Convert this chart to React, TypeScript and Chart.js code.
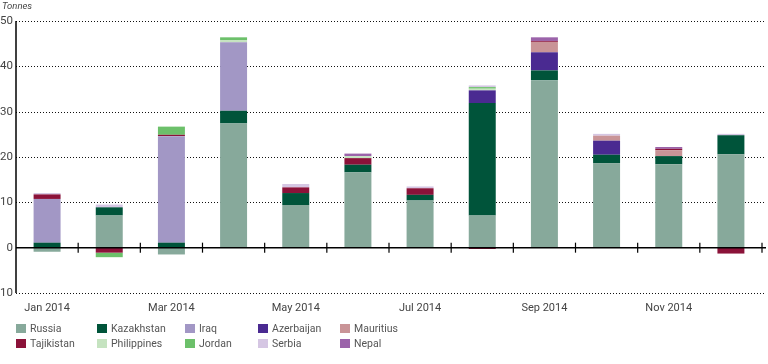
import React, { useEffect, useRef } from "react";
import { Chart, registerables } from "chart.js";

Chart.register(...registerables);

const months = [
  "Jan 2014", "Feb 2014", "Mar 2014", "Apr 2014", "May 2014", "Jun 2014",
  "Jul 2014", "Aug 2014", "Sep 2014", "Oct 2014", "Nov 2014", "Dec 2014",
];

const russia = [-0.9, 7.1, -1.5, 27.4, 9.4, 16.6, 10.4, 7.1, 36.9, 18.6, 18.4, 20.6];
const kazakhstan = [1.1, 1.8, 1.1, 2.8, 2.65, 1.7, 1.25, 24.8, 2.2, 1.9, 1.8, 4.2];
const iraq = [9.65, 0, 23.5, 15.1, 0, 0, 0, 0, 0, 0, 0, 0];
const azerbaijan = [0, 0, 0, 0, 0, 0, 0, 2.8, 4.0, 3.1, 0, 0];
const mauritius = [0, 0, 0, 0, 0, 0, 0, 0, 2.3, 1.1, 1.3, 0];
const tajikistan = [1.0, -1.1, 0.3, 0, 1.25, 1.45, 1.45, -0.3, 0.2, 0, 0.3, -1.3];
const philippines = [0, 0, 0, 0.5, 0, 0.45, 0, 0.37, 0, 0, 0, 0];
const jordan = [0, -1.0, 1.8, 0.6, 0, 0, 0, 0.35, 0, 0, 0, 0];
const serbia = [0.3, 0.6, 0, 0, 0.75, 0, 0.4, 0.37, 0, 0.4, 0, 0.3];
const nepal = [0, 0, 0, 0, 0, 0.55, 0, 0, 0.8, 0, 0.4, 0];

const yTicks = [-10, 0, 10, 20, 30, 40, 50];

const seriesNames = [
  "Russia", "Kazakhstan", "Iraq", "Azerbaijan", "Mauritius",
  "Tajikistan", "Philippines", "Jordan", "Serbia", "Nepal",
];
const seriesData = [
  russia, kazakhstan, iraq, azerbaijan, mauritius,
  tajikistan, philippines, jordan, serbia, nepal,
];
const seriesColors = [
  "#87a99b", "#00543a", "#a297c5", "#4a2a91", "#c99497",
  "#8b1239", "#c5e3c0", "#6cc06a", "#d5c6e3", "#9b63aa",
];

const legendCols = [16, 97, 185, 258, 340];
const legendRows = [328, 343.3];

const axisPlugin = {
  id: "customAxis",
  beforeDatasetsDraw(chart: any) {
    const { ctx, chartArea, scales } = chart;
    const y = scales.y;
    ctx.save();
    ctx.strokeStyle = "#111";
    ctx.lineWidth = 1;
    ctx.setLineDash([1, 2]);
    for (const v of yTicks) {
      if (v === 0) continue;
      const py = Math.round(y.getPixelForValue(v)) + 0.5;
      ctx.beginPath();
      ctx.moveTo(chartArea.left, py);
      ctx.lineTo(chartArea.right + 4, py);
      ctx.stroke();
    }
    ctx.restore();
  },
  afterDatasetsDraw(chart: any) {
    const { ctx, chartArea, scales } = chart;
    const x = scales.x;
    const y = scales.y;
    const y0 = y.getPixelForValue(0);
    ctx.save();
    ctx.strokeStyle = "#000";
    ctx.lineWidth = 1.5;
    ctx.setLineDash([]);
    ctx.beginPath();
    ctx.moveTo(chartArea.left, y0);
    ctx.lineTo(chartArea.right + 4, y0);
    ctx.stroke();
    ctx.lineWidth = 1.2;
    const n = months.length;
    for (let i = 0; i < n; i++) {
      const bx =
        i < n - 1
          ? (x.getPixelForValue(i) + x.getPixelForValue(i + 1)) / 2
          : chartArea.right;
      ctx.beginPath();
      ctx.moveTo(bx, y0 - 5);
      ctx.lineTo(bx, y0 + 5);
      ctx.stroke();
    }
    ctx.lineWidth = 1.5;
    ctx.beginPath();
    ctx.moveTo(chartArea.left, chartArea.top);
    ctx.lineTo(chartArea.left, chartArea.bottom);
    ctx.stroke();
    ctx.font = "italic 9.5px Roboto";
    ctx.fillStyle = "#444";
    ctx.textBaseline = "alphabetic";
    ctx.fillText("Tonnes", 2, 9);
    ctx.restore();
  },
};

export default function App() {
  const canvasRef = useRef<HTMLCanvasElement | null>(null);

  useEffect(() => {
    document.body.style.margin = "0";
    const canvas = canvasRef.current;
    if (!canvas) return;
    const chart = new Chart(canvas, {
      type: "bar",
      data: {
        labels: months,
        datasets: seriesNames.map((name, i) => ({
          label: name,
          data: seriesData[i],
          backgroundColor: seriesColors[i],
          borderWidth: 0,
          categoryPercentage: 1,
          barPercentage: 0.434,
        })),
      },
      options: {
        animation: false,
        responsive: false,
        maintainAspectRatio: false,
        layout: { padding: { top: 21, left: 0, right: 6, bottom: 51 } },
        plugins: {
          legend: { display: false },
          tooltip: { enabled: false },
          title: { display: false },
        },
        scales: {
          x: {
            stacked: true,
            grid: { display: false, drawTicks: false },
            border: { display: false },
            ticks: {
              autoSkip: false,
              maxRotation: 0,
              padding: 9,
              color: "#444",
              font: { family: "Roboto", size: 11 },
              callback: (_v: any, i: number) => (i % 2 === 0 ? months[i] : ""),
            },
            afterFit: (s: any) => {
              s.height = 20;
            },
          },
          y: {
            stacked: true,
            min: -10,
            max: 50,
            grid: { display: false, drawTicks: false },
            border: { display: false },
            ticks: {
              stepSize: 10,
              padding: 3,
              color: "#444",
              font: { family: "Roboto", size: 11.5 },
            },
            afterFit: (s: any) => {
              s.width = 16;
            },
          },
        },
      },
      plugins: [axisPlugin],
    } as any);
    return () => chart.destroy();
  }, []);

  return (
    <div style={{ position: "relative", width: 768, height: 364 }}>
      <canvas ref={canvasRef} width={768} height={364} style={{ display: "block" }} />
      {seriesNames.map((name, i) => {
        const col = i % 5;
        const row = Math.floor(i / 5);
        return (
          <div
            key={name}
            style={{
              position: "absolute",
              left: legendCols[col],
              top: legendRows[row] - 7,
              height: 14,
              display: "flex",
              alignItems: "center",
              fontFamily: "Roboto",
              fontSize: 10.5,
              color: "#555",
              whiteSpace: "nowrap",
            }}
          >
            <span
              style={{
                display: "inline-block",
                width: 10,
                height: 9,
                background: seriesColors[i],
                marginRight: 4,
              }}
            />
            {name}
          </div>
        );
      })}
    </div>
  );
}
